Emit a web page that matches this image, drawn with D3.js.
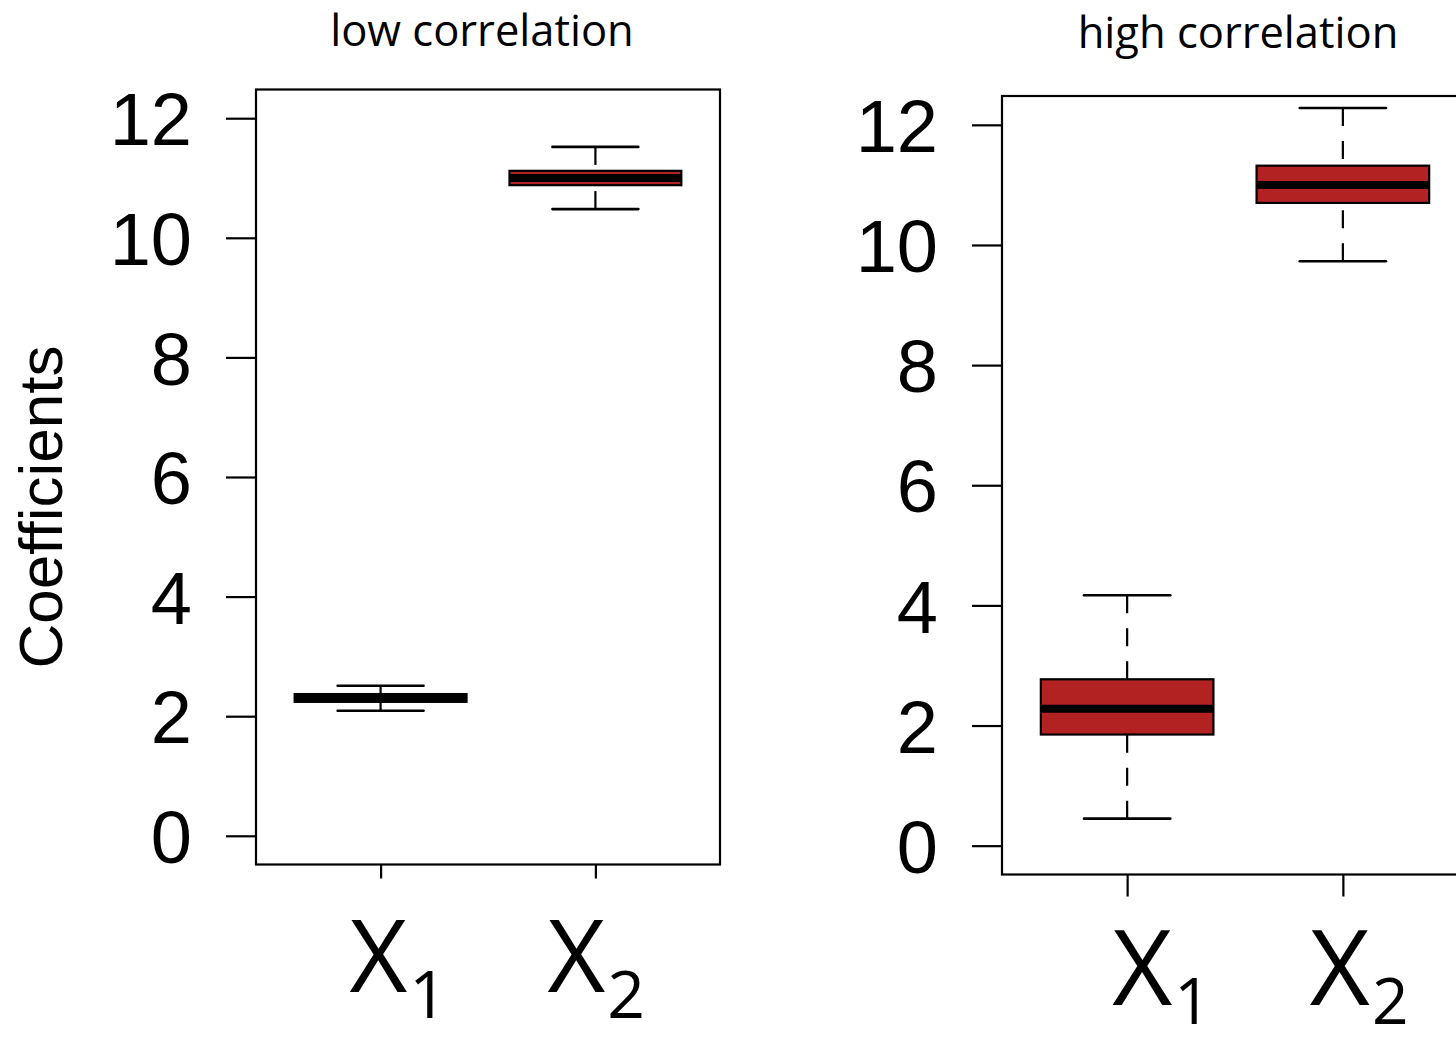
<!DOCTYPE html>
<html>
<head>
<meta charset="utf-8">
<script src="https://cdn.jsdelivr.net/npm/d3@7"></script>
<style>
  html, body { margin: 0; padding: 0; background: #fff; }
  svg { display: block; }
</style>
</head>
<body>
<svg id="chart" width="1456" height="1043"></svg>
<script>
// ---- data ----
const categories = ["X1", "X2"];
const categorySubscripts = ["1", "2"];
const yTicks = [0, 2, 4, 6, 8, 10, 12];
const yLimits = [0, 12];
const panelTitles = ["low correlation", "high correlation"];
const yAxisTitle = "Coefficients";
// five-number summaries: [lower whisker, Q1, median, Q3, upper whisker]
const lowCorrX1 = [2.09, 2.24, 2.30, 2.37, 2.51];
const lowCorrX2 = [10.48, 10.88, 11.00, 11.12, 11.52];
const highCorrX1 = [0.45, 1.85, 2.28, 2.77, 4.17];
const highCorrX2 = [9.73, 10.70, 11.00, 11.32, 12.28];

// ---- layout ----
const panels = [
  {
    title: panelTitles[0], stats: [lowCorrX1, lowCorrX2],
    left: 256, right: 720, top: 89.5, bottom: 864.5,
    titleX: 482, titleY: 46, xTickLen: 14,
    labelBaseline: 992, labelShift: [-31, -48], labelSize: 100, subSize: 66, subDrop: 26
  },
  {
    title: panelTitles[1], stats: [highCorrX1, highCorrX2],
    left: 1002, right: 1468, top: 96, bottom: 874.5,
    titleX: 1238, titleY: 48, xTickLen: 22,
    labelBaseline: 1005, labelShift: [-15, -33], labelSize: 104, subSize: 64, subDrop: 19
  }
];

const boxWex = 0.8;      // box width in category units
const stapleWex = 0.5;   // whisker cap width relative to box
const boxFill = "#b22222";

const svg = d3.select("#chart");
svg.append("rect").attr("width", 1456).attr("height", 1043).attr("fill", "#fff");

panels.forEach(p => {
  const g = svg.append("g");

  // scales with the usual 4% padding around the data ranges
  const xLo = 0.5, xHi = categories.length + 0.5;
  const xPad = 0.04 * (xHi - xLo);
  const x = d3.scaleLinear()
    .domain([xLo - xPad, xHi + xPad])
    .range([p.left, p.right]);
  const yPad = 0.04 * (yLimits[1] - yLimits[0]);
  const y = d3.scaleLinear()
    .domain([yLimits[0] - yPad, yLimits[1] + yPad])
    .range([p.bottom, p.top]);

  // y axis
  const yAxis = g.append("g")
    .attr("transform", `translate(${p.left},0)`)
    .call(d3.axisLeft(y).tickValues(yTicks).tickSize(30).tickPadding(34).tickSizeOuter(0).tickFormat(d3.format("d")));
  yAxis.select(".domain").remove();
  yAxis.selectAll(".tick line").attr("stroke", "#000").attr("stroke-width", 2.2);
  yAxis.selectAll(".tick text")
    .attr("font-family", "'Liberation Sans', Arial, sans-serif")
    .attr("font-size", 74)
    .attr("fill", "#000")
    .attr("dy", "0.36em");

  // x axis ticks
  const xAxis = g.append("g")
    .attr("transform", `translate(0,${p.bottom})`)
    .call(d3.axisBottom(x).tickValues(categories.map((c, i) => i + 1)).tickSize(p.xTickLen).tickSizeOuter(0).tickFormat(""));
  xAxis.select(".domain").remove();
  xAxis.selectAll(".tick line").attr("stroke", "#000").attr("stroke-width", 2.2);

  // category labels with subscripts
  categories.forEach((c, i) => {
    const t = g.append("text")
      .attr("x", x(i + 1) + p.labelShift[i])
      .attr("y", p.labelBaseline)
      .attr("font-family", "'Open Sans', Lato, sans-serif")
      .attr("font-size", p.labelSize)
      .attr("fill", "#000");
    t.append("tspan").text(c.charAt(0));
    t.append("tspan")
      .attr("dx", 2)
      .attr("dy", p.subDrop)
      .attr("font-size", p.subSize)
      .text(categorySubscripts[i]);
  });

  // boxes
  const halfBox = (x(1 + boxWex / 2) - x(1 - boxWex / 2)) / 2;
  const halfCap = halfBox * stapleWex;
  p.stats.forEach((s, i) => {
    const cx = x(i + 1);
    const [lo, q1, med, q3, hi] = s;
    const bg = g.append("g");
    // whiskers, drawn from the whisker ends toward the box
    [[hi, q3], [lo, q1]].forEach(([end, edge]) => {
      bg.append("line")
        .attr("x1", cx).attr("x2", cx)
        .attr("y1", y(end)).attr("y2", y(edge))
        .attr("stroke", "#000").attr("stroke-width", 2.2)
        .attr("stroke-dasharray", "18,15");
      bg.append("line")
        .attr("x1", cx - halfCap).attr("x2", cx + halfCap)
        .attr("y1", y(end)).attr("y2", y(end))
        .attr("stroke", "#000").attr("stroke-width", 2.6)
        .attr("stroke-linecap", "round");
    });
    bg.append("rect")
      .attr("x", cx - halfBox).attr("width", 2 * halfBox)
      .attr("y", y(q3)).attr("height", y(q1) - y(q3))
      .attr("fill", boxFill)
      .attr("stroke", "#000").attr("stroke-width", 2.2);
    bg.append("line")
      .attr("x1", cx - halfBox).attr("x2", cx + halfBox)
      .attr("y1", y(med)).attr("y2", y(med))
      .attr("stroke", "#000").attr("stroke-width", 8);
  });

  // plot frame
  g.append("rect")
    .attr("x", p.left).attr("y", p.top)
    .attr("width", p.right - p.left).attr("height", p.bottom - p.top)
    .attr("fill", "none").attr("stroke", "#000").attr("stroke-width", 2.2);

  // panel title
  g.append("text")
    .attr("x", p.titleX).attr("y", p.titleY)
    .attr("text-anchor", "middle")
    .attr("font-family", "'Open Sans', Lato, sans-serif")
    .attr("font-size", 43.5)
    .attr("fill", "#000")
    .text(p.title);
});

// shared y-axis title
svg.append("text")
  .attr("transform", "translate(62,507) rotate(-90)")
  .attr("text-anchor", "middle")
  .attr("font-family", "'Liberation Sans', Arial, sans-serif")
  .attr("font-size", 62)
  .attr("fill", "#000")
  .text(yAxisTitle);
</script>
</body>
</html>
